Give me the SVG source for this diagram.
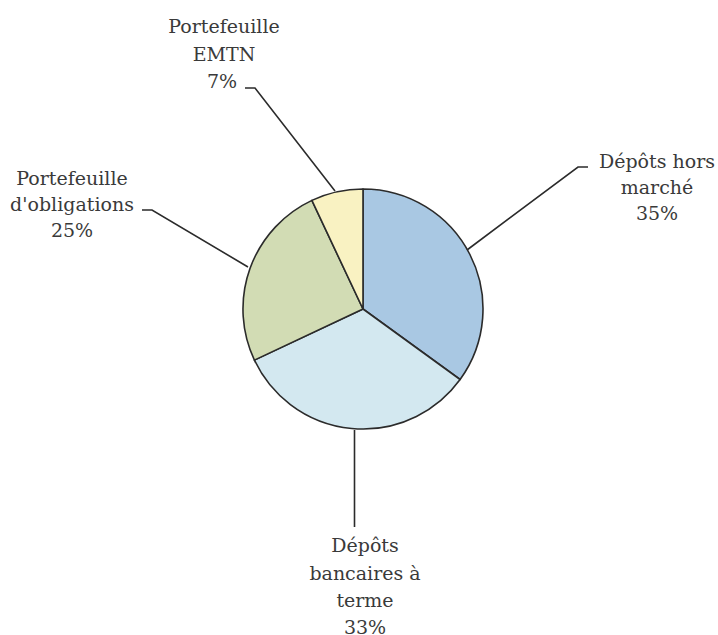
<svg xmlns="http://www.w3.org/2000/svg" width="718" height="635" viewBox="0 0 718 635">
<style>
.s{stroke:#2b2b2b;stroke-width:1.6;stroke-linejoin:round}
.l{fill:none;stroke:#2b2b2b;stroke-width:1.6}
.t text{font-family:"DejaVu Serif","Liberation Serif","Times New Roman",Times,serif;font-size:19px;fill:#3a3a3a;text-anchor:middle}
</style>
<rect width="718" height="635" fill="#fff"/>
<g id="slice-hors-marche"><path class="s" fill="#a9c8e3" d="M363,309 L363,189 A120,120 0 0 1 460.1,379.5 Z"/></g>
<g id="slice-bancaires"><path class="s" fill="#d3e8f0" d="M363,309 L460.1,379.5 A120,120 0 0 1 254.4,360.1 Z"/></g>
<g id="slice-obligations"><path class="s" fill="#d2dcb4" d="M363,309 L254.4,360.1 A120,120 0 0 1 311.9,200.4 Z"/></g>
<g id="slice-emtn"><path class="s" fill="#f9f2c2" d="M363,309 L311.9,200.4 A120,120 0 0 1 363,189 Z"/></g>
<g id="connectors">
<polyline class="l" points="245,88 255,88 335,191"/>
<polyline class="l" points="142,210 152,210 248,267"/>
<polyline class="l" points="467,250 578,167 588,167"/>
<polyline class="l" points="354.5,430 354.5,527"/>
</g>
<g class="t">
<g id="label-emtn"><text x="224" y="33">Portefeuille</text><text x="224" y="61">EMTN</text><text x="222" y="88">7%</text></g>
<g id="label-obligations"><text x="72" y="185">Portefeuille</text><text x="72" y="211">d'obligations</text><text x="72" y="237">25%</text></g>
<g id="label-hors-marche"><text x="657" y="168">Dépôts hors</text><text x="657" y="194">marché</text><text x="657" y="220">35%</text></g>
<g id="label-bancaires"><text x="365" y="552">Dépôts</text><text x="365" y="580">bancaires à</text><text x="365" y="607">terme</text><text x="365" y="634">33%</text></g>
</g>
</svg>
